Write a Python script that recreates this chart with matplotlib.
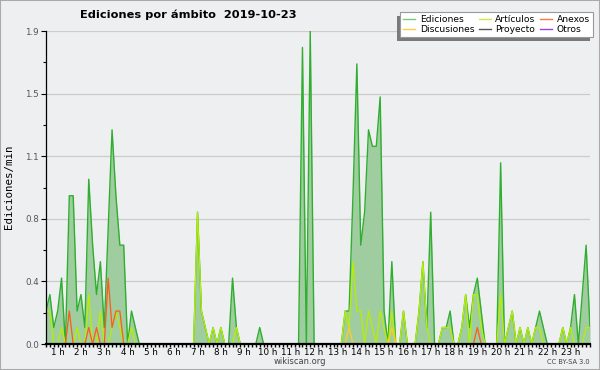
import matplotlib
matplotlib.use("Agg")
import matplotlib.pyplot as plt
from matplotlib.patches import Rectangle
from matplotlib.lines import Line2D
import numpy as np

# Ediciones por minuto, one point every 10 minutes
ediciones = [
    0.2, 0.3, 0.1, 0.2, 0.4, 0, 0.9, 0.9, 0.2, 0.3,
    0.1, 1.0, 0.6, 0.3, 0.5, 0.1, 0.7, 1.3, 0.9, 0.6,
    0.6, 0, 0.2, 0.1, 0, 0, 0, 0, 0, 0,
    0, 0, 0, 0, 0, 0, 0, 0, 0, 0.8,
    0.2, 0.1, 0, 0.1, 0, 0.1, 0, 0, 0.4, 0.1,
    0, 0, 0, 0, 0, 0.1, 0, 0, 0, 0,
    0, 0, 0, 0, 0, 0, 1.8, 0, 1.9, 0,
    0, 0, 0, 0, 0, 0, 0, 0.2, 0.2, 0.9,
    1.7, 0.6, 0.8, 1.3, 1.2, 1.2, 1.5, 0.2, 0, 0.5,
    0, 0, 0.2, 0, 0, 0, 0.2, 0.5, 0.1, 0.8,
    0, 0, 0.1, 0.1, 0.2, 0, 0, 0.1, 0.3, 0.1,
    0.3, 0.4, 0.2, 0, 0, 0, 0, 1.1, 0, 0.1,
    0.2, 0, 0.1, 0, 0.1, 0, 0.1, 0.2, 0.1, 0,
    0, 0, 0, 0.1, 0, 0.1, 0.3, 0, 0.3, 0.6, 0.1,
]
articulos = [
    0.2, 0.2, 0, 0, 0.1, 0, 0, 0, 0.1, 0,
    0, 0.3, 0, 0, 0.2, 0, 0, 0.1, 0.2, 0.1,
    0, 0, 0.1, 0, 0, 0, 0, 0, 0, 0,
    0, 0, 0, 0, 0, 0, 0, 0, 0, 0.8,
    0.2, 0.1, 0, 0.1, 0, 0.1, 0, 0, 0, 0.1,
    0, 0, 0, 0, 0, 0, 0, 0, 0, 0,
    0, 0, 0, 0, 0, 0, 0, 0, 0, 0,
    0, 0, 0, 0, 0, 0, 0, 0.2, 0.1, 0.5,
    0.2, 0.2, 0, 0.2, 0.1, 0, 0.2, 0.1, 0, 0.2,
    0, 0, 0.2, 0, 0, 0, 0.2, 0.5, 0.1, 0,
    0, 0, 0.1, 0.1, 0.1, 0, 0, 0.1, 0.3, 0,
    0.3, 0.3, 0.1, 0, 0, 0, 0, 0.3, 0, 0.1,
    0.2, 0, 0.1, 0, 0.1, 0, 0.1, 0.1, 0, 0,
    0, 0, 0, 0.1, 0, 0.1, 0, 0, 0, 0.1, 0.1,
]
n_points = len(ediciones)
anexos = [0.0] * n_points
for i, v in [(6, 0.2), (11, 0.1), (13, 0.1), (16, 0.4), (17, 0.1),
             (18, 0.2), (19, 0.2), (111, 0.1)]:
    anexos[i] = v
discusiones = [0.0] * n_points
for i, v in [(78, 0.1), (89, 0.1)]:
    discusiones[i] = v
proyecto = [0.0] * n_points
otros = [0.0] * n_points

hours = list(range(1, 24))
hour_labels = [f"{h} h" for h in hours]
ytick_values = [0, 0.38, 0.76, 1.14, 1.52, 1.9]
ytick_labels = ["0.0", "0.4", "0.8", "1.1", "1.5", "1.9"]

BG = "#eeeff1"

fig = plt.figure(figsize=(6, 3.7), dpi=100, facecolor=BG)
ax = fig.add_axes([46 / 600, 26 / 370, 544 / 600, 313 / 370])
ax.set_facecolor(BG)

x = np.arange(n_points)
ax.fill_between(x, ediciones, 0, color="#9fcd9f", lw=0, zorder=1.5)
ax.plot(x, ediciones, color="#2fae2f", lw=1.0, zorder=2)
ax.plot(x, articulos, color="#b8ee00", lw=0.9, zorder=2.1)
ax.plot(x, discusiones, color="#ffcc22", lw=0.9, zorder=2.2)
ax.plot(x, anexos, color="#ff5a1a", lw=0.9, zorder=2.3)
ax.plot(x, proyecto, color="#555555", lw=0.9, zorder=2)
ax.plot(x, otros, color="#9944dd", lw=0.9, zorder=2)

ax.set_xlim(0, n_points - 1)
ax.set_ylim(0, 1.9)

ax.set_yticks(ytick_values, ytick_labels)
ax.set_yticks([(a + b) / 2 for a, b in zip(ytick_values[:-1], ytick_values[1:])], minor=True)
for yv in ytick_values[1:]:
    ax.axhline(yv, color="#cccccc", lw=0.9, zorder=1)

ax.set_xticks([6 * h - 3 for h in hours], hour_labels)
ax.set_xticks(np.arange(n_points), minor=True)

ax.tick_params(axis="x", which="both", direction="out", length=2.5, width=1,
               color="black", pad=0.5, labelsize=6.3)
ax.tick_params(axis="y", which="major", direction="out", length=3.6, width=0.8,
               color="black", pad=1.5, labelsize=6.3, labelcolor="#555555")
ax.tick_params(axis="y", which="minor", direction="out", length=2.2, width=0.8,
               color="black")

for side in ("top", "right"):
    ax.spines[side].set_visible(False)
ax.spines["left"].set_linewidth(0.9)
ax.spines["bottom"].set_linewidth(1.6)

fig.text(188 / 600, 1 - 15 / 370, "Ediciones por ámbito  2019-10-23",
         ha="center", va="center", fontsize=8.2, fontweight="bold")
fig.text(9 / 600, 1 - 187 / 370, "Ediciones/min", rotation=90,
         ha="center", va="center", fontsize=7.8, family="DejaVu Sans Mono")
fig.text(300 / 600, 1 - 362 / 370, "wikiscan.org", ha="center", va="center",
         fontsize=6, color="#444444")
fig.text(590 / 600, 1 - 362 / 370, "CC BY-SA 3.0", ha="right", va="center",
         fontsize=4.8, color="#444444")

handles = [
    Line2D([], [], color="#77cc77", lw=1),
    Line2D([], [], color="#ffcc44", lw=1),
    Line2D([], [], color="#ccee44", lw=1),
    Line2D([], [], color="#555555", lw=1),
    Line2D([], [], color="#ff7744", lw=1),
    Line2D([], [], color="#9944dd", lw=1),
]
labels = ["Ediciones", "Discusiones", "Artículos", "Proyecto", "Anexos", "Otros"]
leg = fig.legend(handles, labels, ncol=3, loc="upper right",
                 bbox_to_anchor=(593 / 600, 1 - 12 / 370), fontsize=6.6,
                 frameon=True, fancybox=False, edgecolor="#999999", facecolor="white",
                 framealpha=1, handlelength=1.3, handletextpad=0.5, columnspacing=0.5,
                 labelspacing=0.1, borderpad=0.35, borderaxespad=0)
leg.get_frame().set_linewidth(0.8)

# shadow drawn to the lower left of the legend box
fig.canvas.draw()
bb = leg.get_window_extent().transformed(fig.transFigure.inverted())
fig.patches.append(Rectangle((bb.x0 - 3 / 600, bb.y0 - 4 / 370), bb.width, bb.height,
                             transform=fig.transFigure, facecolor="#7a7a7a",
                             edgecolor="none", zorder=0))
leg.set_zorder(5)

fig.patches.append(Rectangle((0, 0), 1, 1, transform=fig.transFigure,
                             fill=False, edgecolor="#aaaaaa", lw=1.5))

fig.savefig("out.png", dpi=100, facecolor=BG)
